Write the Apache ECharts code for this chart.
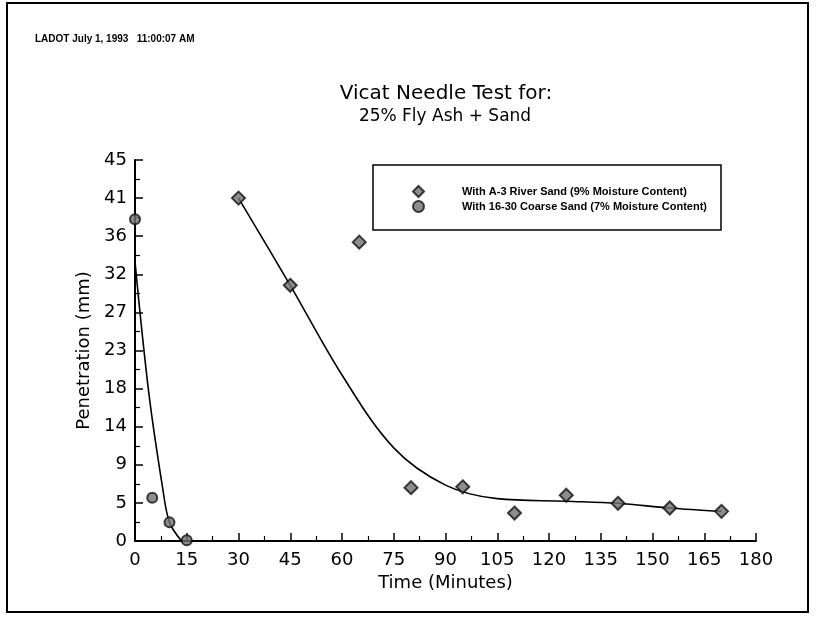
<!DOCTYPE html>
<html>
<head>
<meta charset="utf-8">
<title>Vicat Needle Test</title>
<script src="https://cdn.jsdelivr.net/npm/echarts@6/dist/echarts.min.js"></script>
<style>
  html, body { margin: 0; padding: 0; background: #fff; }
  #chart { width: 817px; height: 621px; }
</style>
</head>
<body>
<div id="chart"></div>
<script>
// Measured penetration (mm) against elapsed time (minutes)
const riverTime = [30, 45, 65, 80, 95, 110, 125, 140, 155, 170];
const riverPen  = [40.5, 30.2, 35.3, 6.3, 6.4, 3.3, 5.4, 4.45, 3.9, 3.5];
const coarseTime = [0, 5, 10, 15];
const coarsePen  = [38.0, 5.1, 2.2, 0.1];

// Hand-drawn trend curves through each data set
const riverFitTime = [30, 45, 60, 75, 90, 105, 125, 140, 155, 170];
const riverFitPen  = [40.5, 30.2, 19.6, 11.0, 6.6, 5.0, 4.7, 4.45, 3.9, 3.5];
const coarseFitTime = [0, 4, 8, 10, 13.5];
const coarseFitPen  = [33, 17.5, 6.3, 2.2, 0];

// Y axis is split into ten equal steps of 4.5 mm, printed rounded
const yTickLabels = ['0', '5', '9', '14', '18', '23', '27', '32', '36', '41', '45'];

const riverName  = 'With A-3 River Sand (9% Moisture Content)';
const coarseName = 'With 16-30 Coarse Sand (7% Moisture Content)';

const pairs = (xs, ys) => xs.map((x, i) => [x, ys[i]]);

const FONT = 'DejaVu Sans';
const markerStyle = { color: '#707070', borderColor: '#111', borderWidth: 2 };

const chart = echarts.init(document.getElementById('chart'));
chart.setOption({
  backgroundColor: '#fff',
  animation: false,
  textStyle: { fontFamily: FONT, color: '#000' },
  graphic: [
    { type: 'rect', shape: { x: 7, y: 3, width: 801, height: 609 },
      style: { fill: null, stroke: '#000', lineWidth: 2 } },
    { type: 'text', x: 35, y: 39,
      style: { text: 'LADOT July 1, 1993   11:00:07 AM', font: 'bold 10px "Liberation Sans"', fill: '#000', textVerticalAlign: 'middle' } },
    { type: 'text', x: 446, y: 94,
      style: { text: 'Vicat Needle Test for:', font: '20px "DejaVu Sans"', fill: '#000', textAlign: 'center', textVerticalAlign: 'middle' } },
    { type: 'text', x: 445, y: 117,
      style: { text: '25% Fly Ash + Sand', font: '17px "DejaVu Sans"', fill: '#000', textAlign: 'center', textVerticalAlign: 'middle' } }
  ],
  legend: {
    data: [riverName, coarseName],
    orient: 'vertical',
    left: 373,
    top: 165,
    padding: [20, 14, 17, 39],
    itemGap: 2,
    itemWidth: 11,
    itemHeight: 11,
    borderColor: '#000',
    borderWidth: 1.5,
    backgroundColor: '#fff',
    textStyle: { fontFamily: 'Liberation Sans', fontWeight: 'bold', fontSize: 11, color: '#000', padding: [0, 0, 0, 33] }
  },
  grid: { left: 135, right: 61, top: 160, bottom: 80, containLabel: false },
  xAxis: {
    type: 'value',
    min: 0, max: 180, interval: 15,
    name: 'Time (Minutes)',
    nameLocation: 'middle',
    nameGap: 33,
    nameTextStyle: { fontFamily: FONT, fontSize: 18, color: '#000' },
    axisLine: { lineStyle: { color: '#000', width: 2 } },
    axisTick: { inside: true, length: 8, lineStyle: { color: '#000', width: 1.5 } },
    minorTick: { show: true, splitNumber: 2, length: 5, lineStyle: { color: '#000', width: 1.2 } },
    axisLabel: { fontFamily: FONT, fontSize: 18, color: '#000', margin: 10 },
    splitLine: { show: false }
  },
  yAxis: {
    type: 'value',
    min: 0, max: 45, interval: 4.5,
    name: 'Penetration (mm)',
    nameLocation: 'middle',
    nameGap: 41,
    nameTextStyle: { fontFamily: FONT, fontSize: 18, color: '#000' },
    axisLine: { show: true, lineStyle: { color: '#000', width: 2 } },
    axisTick: { show: true, inside: true, length: 8, lineStyle: { color: '#000', width: 1.5 } },
    minorTick: { show: true, splitNumber: 2, length: 5, lineStyle: { color: '#000', width: 1.2 } },
    axisLabel: {
      fontFamily: FONT, fontSize: 18, color: '#000', margin: 8,
      formatter: v => yTickLabels[Math.round(v / 4.5)]
    },
    splitLine: { show: false }
  },
  series: [
    {
      type: 'line', name: 'river-fit', data: pairs(riverFitTime, riverFitPen),
      smooth: 0.35, symbol: 'none', silent: true,
      lineStyle: { color: '#000', width: 1.6 }, z: 1
    },
    {
      type: 'line', name: 'coarse-fit', data: pairs(coarseFitTime, coarseFitPen),
      smooth: 0.35, symbol: 'none', silent: true,
      lineStyle: { color: '#000', width: 1.6 }, z: 1
    },
    {
      type: 'scatter', name: riverName, data: pairs(riverTime, riverPen),
      symbol: 'diamond', symbolSize: 13, itemStyle: markerStyle, z: 3
    },
    {
      type: 'scatter', name: coarseName, data: pairs(coarseTime, coarsePen),
      symbol: 'circle', symbolSize: 10, itemStyle: markerStyle, z: 3
    }
  ]
});
</script>
</body>
</html>
